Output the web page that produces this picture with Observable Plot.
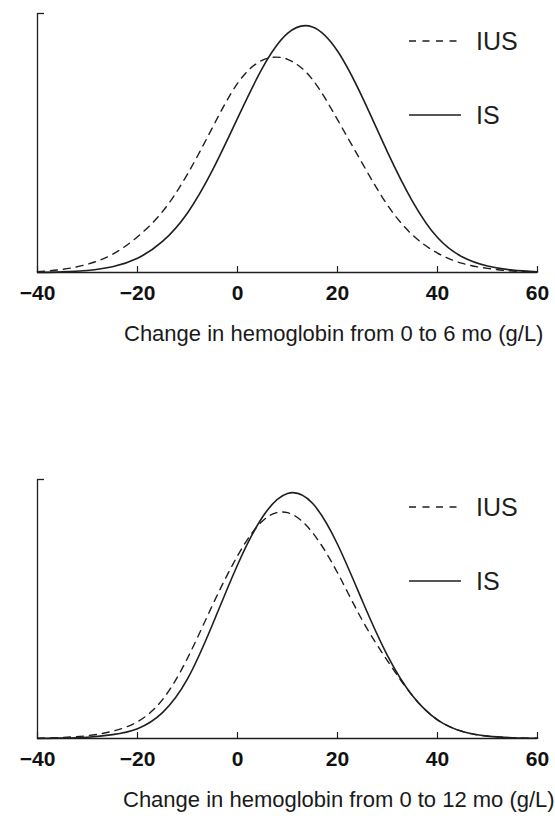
<!DOCTYPE html>
<html>
<head>
<meta charset="utf-8">
<script src="https://cdn.jsdelivr.net/npm/d3@7"></script>
<script src="https://cdn.jsdelivr.net/npm/@observablehq/plot@0.6"></script>
<style>
  html, body { margin: 0; padding: 0; background: #fff; }
  #wrap { position: relative; width: 555px; height: 819px; background: #fff; font-family: "Liberation Sans", Arial, Helvetica, sans-serif; overflow: hidden; }
  .panel { position: absolute; left: 0; }
  .title { position: absolute; font-size: 22px; line-height: 22px; white-space: nowrap; color: #1a1a1a; }
</style>
</head>
<body>
<div id="wrap"></div>
<script>
// ---- data (relative density, 0 = baseline, 100 = top of y axis) ----
const xVals   = [-40, -35, -30, -25, -20, -15, -10, -5, 0, 5, 10, 15, 20, 25, 30, 35, 40, 45, 50, 55, 60];
const top6IUS = [0.3, 1.2, 3.2, 7, 13.8, 23.5, 38, 56, 73, 82, 82.3, 74.5, 59, 42, 26, 14.5, 7.5, 3.5, 1.6, 0.6, 0.2];
const top6IS  = [0.05, 0.25, 0.8, 2.2, 5.5, 12, 23, 39.5, 59.5, 79, 92.3, 94.8, 85.5, 67.5, 46.5, 27.5, 13.5, 6, 2.5, 0.9, 0.3];
const bot12IUS = [0.1, 0.4, 1.1, 2.8, 6.5, 15, 31, 51.5, 70.5, 84, 87.2, 79.5, 64, 45.5, 30, 16.5, 7.2, 2.7, 0.9, 0.3, 0.1];
const bot12IS  = [0, 0.15, 0.5, 1.5, 3.8, 10, 23, 44, 67, 85.5, 94.6, 90.8, 75, 53, 32, 16.5, 7.2, 2.7, 0.9, 0.3, 0.1];
const xTicks = [-40, -20, 0, 20, 40, 60];
const seriesNames = ["IUS", "IS"];
const titles = ["Change in hemoglobin from 0 to 6 mo (g/L)", "Change in hemoglobin from 0 to 12 mo (g/L)"];

const INK = "#1e1e1e";
const FONT = "Liberation Sans, Arial, Helvetica, sans-serif";

function makeChart(iusVals, isVals) {
  const iusRows = xVals.map((x, i) => ({x, y: iusVals[i], s: seriesNames[0]}));
  const isRows  = xVals.map((x, i) => ({x, y: isVals[i], s: seriesNames[1]}));
  const svg = Plot.plot({
    width: 555,
    height: 300,
    marginLeft: 37,
    marginRight: 18,
    marginTop: 13,
    marginBottom: 28,
    x: {domain: [-40, 60], label: null},
    y: {domain: [0, 100], label: null},
    style: {fontFamily: FONT, background: "white", color: INK, overflow: "visible"},
    marks: [
      Plot.ruleY([0], {stroke: INK, strokeWidth: 1.3}),
      Plot.ruleX([-40], {stroke: INK, strokeWidth: 1.3}),
      Plot.axisX({ticks: xTicks, tickSize: -6, tickFormat: () => "", label: null, stroke: INK, strokeWidth: 1.2}),
      Plot.axisX({ticks: xTicks, tickSize: 0, tickPadding: 13, label: null, fontSize: 21, fontWeight: "bold", fill: "#111"}),
      Plot.axisY({ticks: [100], tickSize: -7, tickFormat: () => "", label: null, stroke: INK, strokeWidth: 1.3}),
      Plot.line(iusRows, {x: "x", y: "y", curve: "natural", stroke: INK, strokeWidth: 1.4, strokeDasharray: "7,6"}),
      Plot.line(isRows, {x: "x", y: "y", curve: "natural", stroke: INK, strokeWidth: 1.6})
    ]
  });
  // legend (drawn in pixel space in the upper-right corner)
  const g = d3.select(svg).append("g").attr("class", "legend");
  const items = [
    {name: seriesNames[0], dash: "7,6.5", ly: 41, ty: 50},
    {name: seriesNames[1], dash: null, ly: 115, ty: 124}
  ];
  items.forEach(it => {
    g.append("line").attr("x1", 409).attr("x2", 461).attr("y1", it.ly).attr("y2", it.ly)
      .attr("stroke", INK).attr("stroke-width", 1.4)
      .attr("stroke-dasharray", it.dash);
    g.append("text").attr("x", 476).attr("y", it.ty).text(it.name)
      .attr("text-anchor", "start")
      .attr("font-size", 25).attr("font-family", FONT).attr("fill", INK);
  });
  return svg;
}

const wrap = document.getElementById("wrap");
const panels = [
  {top: 0, ius: top6IUS, is: top6IS, title: titles[0], tleft: 124, ttop: 323},
  {top: 466, ius: bot12IUS, is: bot12IS, title: titles[1], tleft: 123, ttop: 789}
];
panels.forEach(p => {
  const div = document.createElement("div");
  div.className = "panel";
  div.style.top = p.top + "px";
  div.appendChild(makeChart(p.ius, p.is));
  wrap.appendChild(div);
  const t = document.createElement("div");
  t.className = "title";
  t.style.left = p.tleft + "px";
  t.style.top = p.ttop + "px";
  t.textContent = p.title;
  wrap.appendChild(t);
});
</script>
</body>
</html>
